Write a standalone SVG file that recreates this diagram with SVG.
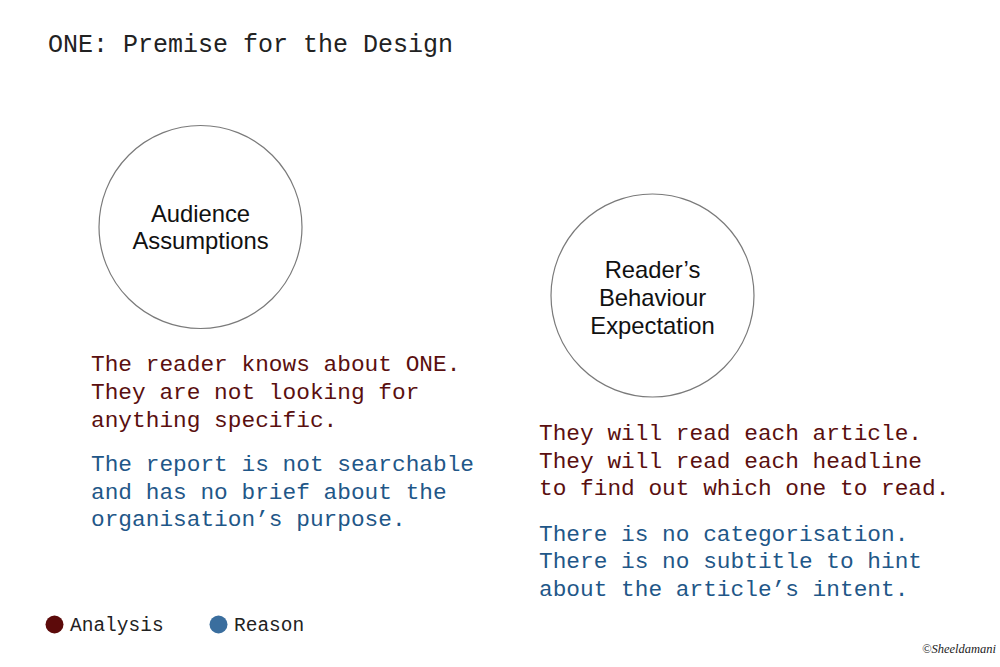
<svg xmlns="http://www.w3.org/2000/svg" width="1000" height="667" viewBox="0 0 1000 667">
<style>
.mono{font-family:"Liberation Mono","Courier New",monospace;}
.title{font-size:25px;fill:#222;}
.body{font-size:22.8px;}
.an{fill:#5a0f0f;}
.re{fill:#1f5788;}
.node circle{fill:#fff;stroke:#7a7a7a;stroke-width:1.2;}
.lbl{font-family:"Liberation Sans",Arial,sans-serif;font-size:23.8px;fill:#111;text-anchor:middle;}
.leg{font-size:19.5px;fill:#222;}
</style>
<rect width="1000" height="667" fill="#fff"/>
<text class="mono title" x="48" y="52">ONE: Premise for the Design</text>
<g id="connectors"></g>
<g id="audience" class="node">
<circle cx="200.5" cy="227" r="101.5"/>
<text class="lbl" x="200.5" y="221.5">Audience</text>
<text class="lbl" x="200.5" y="249">Assumptions</text>
</g>
<g id="behaviour" class="node">
<circle cx="652.5" cy="295.5" r="101.5"/>
<text class="lbl" x="652.5" y="277.5">Reader’s</text>
<text class="lbl" x="652.5" y="305.5">Behaviour</text>
<text class="lbl" x="652.5" y="333.5">Expectation</text>
</g>
<g id="audience-text" class="mono body">
<text class="an" x="91" y="370.5">The reader knows about ONE.</text>
<text class="an" x="91" y="398.5">They are not looking for</text>
<text class="an" x="91" y="426.5">anything specific.</text>
<text class="re" x="91" y="471">The report is not searchable</text>
<text class="re" x="91" y="498.5">and has no brief about the</text>
<text class="re" x="91" y="526">organisation’s purpose.</text>
</g>
<g id="behaviour-text" class="mono body">
<text class="an" x="539" y="440">They will read each article.</text>
<text class="an" x="539" y="467.5">They will read each headline</text>
<text class="an" x="539" y="495">to find out which one to read.</text>
<text class="re" x="539" y="540.5">There is no categorisation.</text>
<text class="re" x="539" y="568">There is no subtitle to hint</text>
<text class="re" x="539" y="595.5">about the article’s intent.</text>
</g>
<g id="legend">
<circle cx="54.5" cy="624.5" r="9" fill="#5c0a0a"/>
<text class="mono leg" x="70" y="631">Analysis</text>
<circle cx="218.5" cy="624.5" r="9" fill="#3a6e9e"/>
<text class="mono leg" x="234" y="631">Reason</text>
</g>
<text x="922" y="653" font-family="Liberation Serif,serif" font-style="italic" font-size="12.5" fill="#222">©Sheeldamani</text>
</svg>
